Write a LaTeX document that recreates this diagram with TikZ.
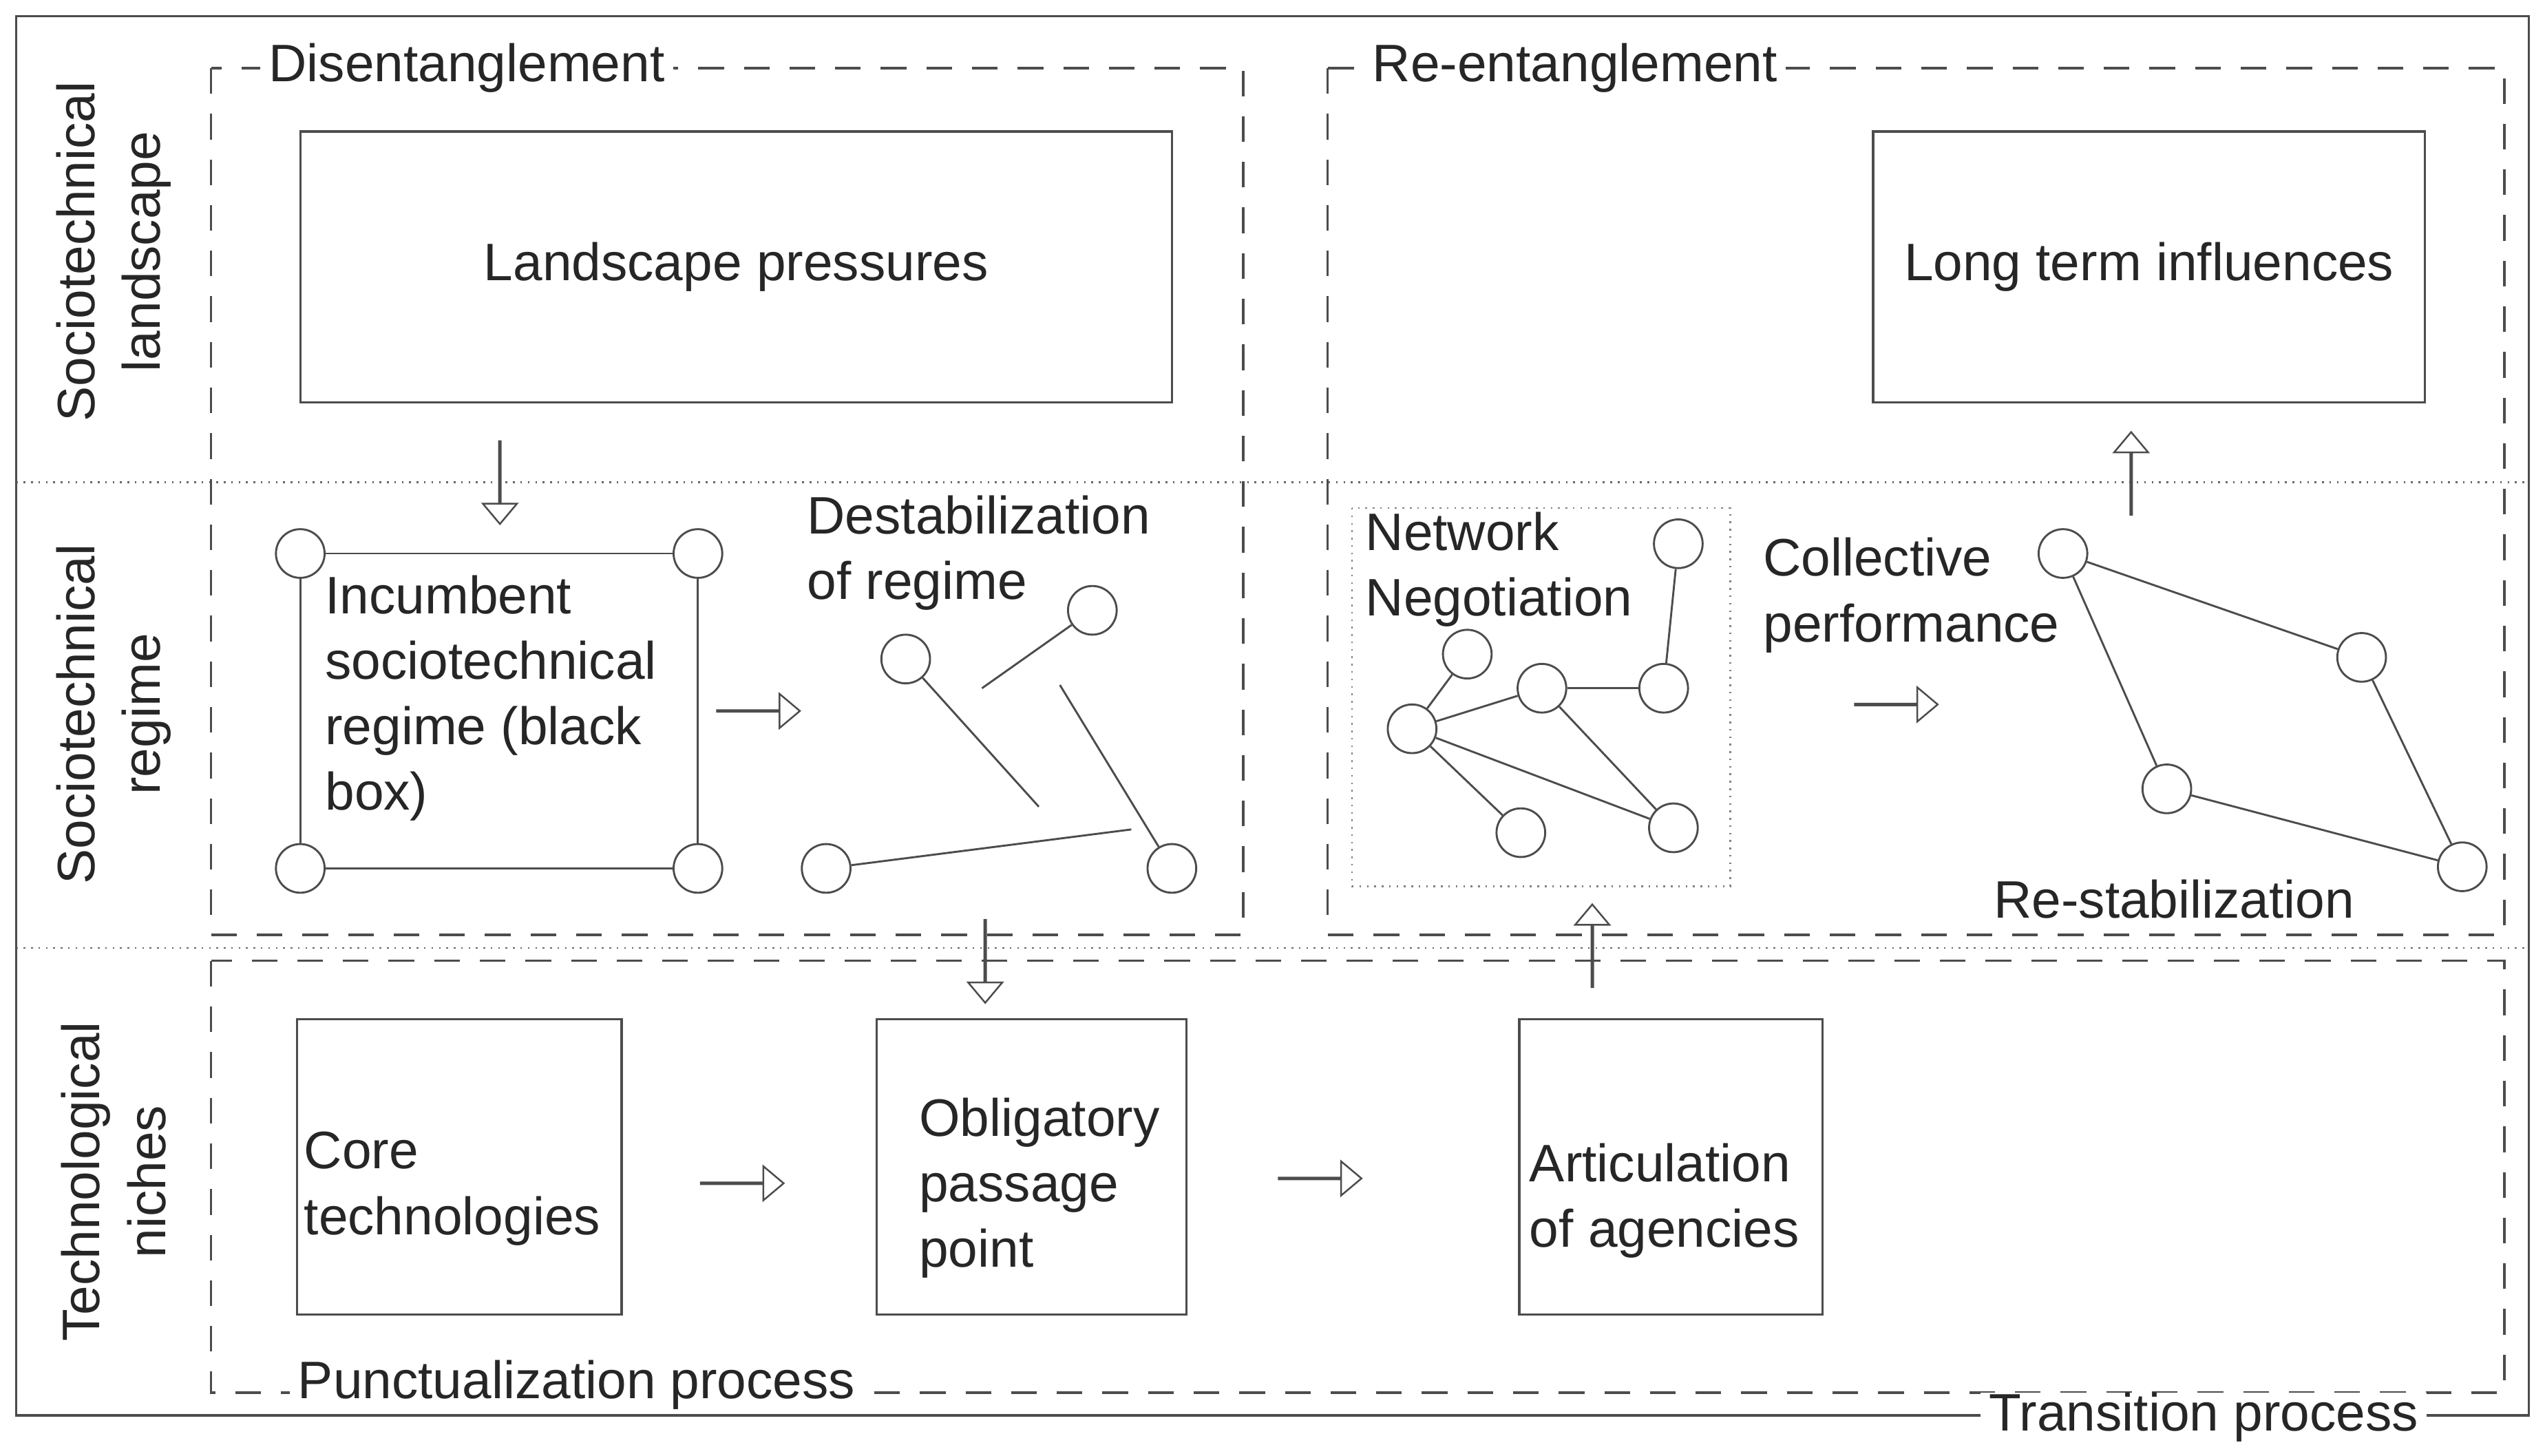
\documentclass[tikz,border=0pt]{standalone}
\usepackage{fontspec}
\setmainfont{Liberation Sans}
\usetikzlibrary{shapes.arrows}
\begin{document}
\begin{tikzpicture}[x=0.02cm,y=-0.02cm,
  every node/.style={font=\fontsize{18.5pt}{23pt}\selectfont, text=black!85},
  ln/.style={draw=black!70, line width=0.7pt},
  box/.style={draw=black!70, line width=0.8pt},
  dbox/.style={draw=black!70, line width=0.8pt, dash pattern=on 9pt off 7pt},
  dot/.style={circle, draw=black!70, line width=0.7pt, fill=white, minimum size=0.6cm, inner sep=0pt},
  harr/.style={single arrow, draw=black!70, line width=0.6pt, inner sep=0pt, minimum width=0.16cm,
     single arrow head extend=0.2cm, single arrow tip angle=80, minimum height=1.02cm},
  lbl/.style={fill=white, inner xsep=3pt, inner ysep=0pt, anchor=west},
  txt/.style={align=left, anchor=north west, inner sep=0pt}]
\useasboundingbox (0,0) rectangle (1568,897);
% frame
\draw[box] (10,10) rectangle (1558,872);
\draw[black!60, line width=0.6pt, dotted] (10,297) -- (1558,297);
\draw[black!60, line width=0.6pt, dotted] (10,584) -- (1558,584);
% dashed regions
\draw[dbox] (130,42) rectangle (766,576);
\draw[dbox] (818,42) rectangle (1543,576);
\draw[dbox] (130,592) rectangle (1543,858);
\node[lbl] (dis) at (160,42) {Disentanglement};
\node[lbl] (ree) at (840,42) {Re-entanglement};
\node[lbl] (pun) at (178,853) {Punctualization process};
\node[lbl] (tra) at (1220,873) {Transition process};
% side labels
\node[rotate=90, align=center] (sl) at (70,155) {Sociotechnical\\landscape};
\node[rotate=90, align=center] (sr) at (70,440) {Sociotechnical\\regime};
\node[rotate=90, align=center] (tn) at (70,728) {Technological\\niches};
% landscape boxes
\node[box, minimum width=10.74cm, minimum height=3.34cm] (lp) at (453.5,164.5) {Landscape pressures};
\node[box, minimum width=6.8cm, minimum height=3.34cm] (lt) at (1324,164.5) {Long term influences};
% incumbent
\node[dot] (i1) at (185,341) {};
\node[dot] (i2) at (430,341) {};
\node[dot] (i3) at (185,535) {};
\node[dot] (i4) at (430,535) {};
\draw[ln] (i1) -- (i2) -- (i4) -- (i3) -- (i1);
\node[txt] (inc) at (200,354) {Incumbent\\sociotechnical\\regime (black\\box)};
\node[harr, rotate=-90] (a1) at (308,297) {};
\node[harr] (a2) at (467,438) {};
% destabilization
\node[txt] (des) at (497,305) {Destabilization\\of regime};
\node[dot] (d1) at (558,406) {};
\node[dot] (d2) at (673,376) {};
\node[dot] (d3) at (509,535) {};
\node[dot] (d4) at (722,535) {};
\coordinate (e1) at (640,497);
\coordinate (e2) at (605,424);
\coordinate (e3) at (653,422);
\coordinate (e4) at (697,511);
\draw[ln] (d1) -- (e1);
\draw[ln] (e2) -- (d2);
\draw[ln] (e3) -- (d4);
\draw[ln] (d3) -- (e4);
% network negotiation
\draw[black!50, line width=0.6pt, dotted] (833,313) rectangle (1066,546);
\node[txt] (nn) at (841,315) {Network\\Negotiation};
\node[dot] (nA) at (870,449) {};
\node[dot] (nB) at (904,403) {};
\node[dot] (nC) at (950,424) {};
\node[dot] (nD) at (1025,424) {};
\node[dot] (nE) at (1034,335) {};
\node[dot] (nF) at (937,513) {};
\node[dot] (nG) at (1031,510) {};
\draw[ln] (nA) -- (nB);
\draw[ln] (nA) -- (nC);
\draw[ln] (nA) -- (nF);
\draw[ln] (nA) -- (nG);
\draw[ln] (nC) -- (nD);
\draw[ln] (nD) -- (nE);
\draw[ln] (nC) -- (nG);
% collective performance
\node[txt] (cp) at (1086,331) {Collective\\performance};
\node[harr] (a3) at (1168,434) {};
\node[dot] (r1) at (1271,341) {};
\node[dot] (r2) at (1455,405) {};
\node[dot] (r3) at (1335,486) {};
\node[dot] (r4) at (1517,534) {};
\draw[ln] (r1) -- (r2) -- (r4) -- (r3) -- (r1);
\node[anchor=west, inner sep=0pt] (rs) at (1228,554) {Re-stabilization};
\node[harr, rotate=90] (a4) at (1313,292) {};
% vertical arrows across bands
\node[harr, rotate=-90] (a5) at (607,592) {};
\node[harr, rotate=90] (a6) at (981,583) {};
% niches
\node[box, minimum width=4cm, minimum height=3.64cm] (core) at (283,719) {};
\node[txt] at (187,697) {Core\\technologies};
\node[box, minimum width=3.82cm, minimum height=3.64cm] (opp) at (635.5,719) {};
\node[txt] at (566,676) {Obligatory\\passage\\point};
\node[box, minimum width=3.74cm, minimum height=3.64cm] (art) at (1029.5,719) {};
\node[txt] at (942,704) {Articulation\\of agencies};
\node[harr] (a7) at (457,729) {};
\node[harr] (a8) at (813,726) {};
\end{tikzpicture}
\end{document}
